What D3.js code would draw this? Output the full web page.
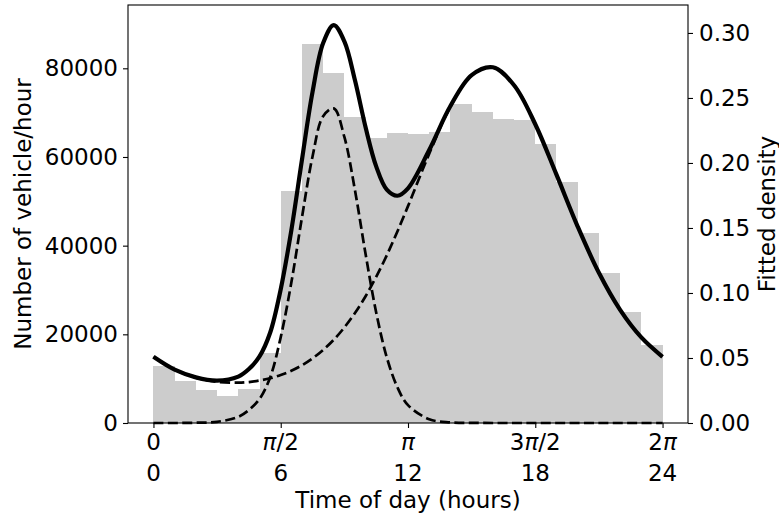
<!DOCTYPE html>
<html>
<head>
<meta charset="utf-8">
<script src="https://cdn.jsdelivr.net/npm/d3@7"></script>
<style>
  body { margin: 0; background: #fff; }
  text { font-family: "DejaVu Sans", sans-serif; fill: #000; }
</style>
</head>
<body>
<svg></svg>
<script>
(function () {
  'use strict';

  // hourly histogram (vehicles per hour, bins 0..23)
  var binHours = d3.range(24);
  var vehicleCounts = [12860, 9470, 7440, 6160, 7600, 15860, 52300, 85400,
                       78850, 69100, 64200, 65340, 65100, 65700, 71950, 70150,
                       68500, 68450, 62900, 54340, 42920, 33820, 24960, 17520];

  // fitted densities (hour -> density)
  var curveHours = [0, 1, 2, 3, 4, 4.5, 5, 5.5, 6, 6.5, 7, 7.5, 8, 8.5, 9, 9.5,
                    10, 10.5, 11, 11.5, 12, 13, 14, 15, 16, 17, 18, 19, 20, 21, 22, 23, 24];
  var morningPeak = [0, 0, 0.0002, 0.0009, 0.0047, 0.0100, 0.0185, 0.0350, 0.0660,
                     0.1080, 0.1580, 0.2050, 0.2360, 0.2420, 0.2200, 0.1790, 0.1300,
                     0.0850, 0.0505, 0.0275, 0.0137, 0.0029, 0.0005, 0.0001,
                     0, 0, 0, 0, 0, 0, 0, 0, 0];
  var afternoonPeak = [0.0509, 0.0410, 0.0349, 0.0317, 0.0310, 0.0315, 0.0327, 0.0344,
                       0.0369, 0.0402, 0.0444, 0.0497, 0.0562, 0.0640, 0.0735, 0.0846,
                       0.0975, 0.1124, 0.1290, 0.1473, 0.1668, 0.2071, 0.2433, 0.2675,
                       0.2736, 0.2598, 0.2298, 0.1910, 0.1511, 0.1155, 0.0870, 0.0658, 0.0509];
  var fittedTotal = [0.0509, 0.0410, 0.0351, 0.0326, 0.0357, 0.0415, 0.0512, 0.0694,
                     0.1029, 0.1482, 0.2024, 0.2547, 0.2922, 0.3060, 0.2935, 0.2636,
                     0.2275, 0.1974, 0.1795, 0.1748, 0.1805, 0.2100, 0.2438, 0.2676,
                     0.2736, 0.2598, 0.2298, 0.1910, 0.1511, 0.1155, 0.0870, 0.0658, 0.0509];

  var radTicks = [0, Math.PI / 2, Math.PI, 3 * Math.PI / 2, 2 * Math.PI];
  var radLabels = [['0'], ['π', '/2'], ['π'], ['3', 'π', '/2'], ['2', 'π']];
  var hourLabels = ['0', '6', '12', '18', '24'];
  var countTicks = [0, 20000, 40000, 60000, 80000];
  var densityTicks = [0, 0.05, 0.10, 0.15, 0.20, 0.25, 0.30];

  var W = 779, H = 516;
  var left = 128, right = 688, top = 5, bottom = 423;
  var FS = '23px';
  var hourToRad = 2 * Math.PI / 24;

  var svg = d3.select('svg')
      .attr('width', W)
      .attr('height', H);

  var x = d3.scaleLinear()
      .domain([-0.05 * 2 * Math.PI, 1.05 * 2 * Math.PI])
      .range([left, right]);
  var yCount = d3.scaleLinear().domain([0, 94280]).range([bottom, top]);
  var yDens = d3.scaleLinear().domain([0, 0.3215]).range([bottom, top]);

  // histogram bars
  svg.append('g').selectAll('rect')
      .data(binHours)
      .enter()
      .append('rect')
      .attr('x', function (h) { return x(h * hourToRad); })
      .attr('width', function (h) { return x((h + 1) * hourToRad) - x(h * hourToRad); })
      .attr('y', function (h, i) { return yCount(vehicleCounts[i]); })
      .attr('height', function (h, i) { return bottom - yCount(vehicleCounts[i]); })
      .attr('fill', '#cccccc')
      .attr('shape-rendering', 'crispEdges');

  // density curves
  function curvePath (vals) {
    return d3.line()
      .x(function (d, i) { return x(curveHours[i] * hourToRad); })
      .y(function (d) { return yDens(d); })
      .curve(d3.curveCatmullRom.alpha(0.5))(vals);
  }

  [morningPeak, afternoonPeak].forEach(function (vals) {
    svg.append('path')
        .attr('d', curvePath(vals))
        .attr('fill', 'none')
        .attr('stroke', '#000')
        .attr('stroke-width', 2.7)
        .attr('stroke-dasharray', '10,4.4');
  });

  svg.append('path')
      .attr('d', curvePath(fittedTotal))
      .attr('fill', 'none')
      .attr('stroke', '#000')
      .attr('stroke-width', 4.2)
      .attr('stroke-linejoin', 'round');

  // axes
  var xAxis = svg.append('g')
      .attr('transform', 'translate(0,' + bottom + ')')
      .call(d3.axisBottom(x).tickValues(radTicks).tickSize(5).tickSizeOuter(0)
            .tickFormat(function () { return ''; }));
  xAxis.select('.domain').remove();
  xAxis.selectAll('.tick line').attr('stroke', '#000').attr('stroke-width', 1.1);

  var xl = svg.append('g');
  radTicks.forEach(function (r, i) {
    var t = xl.append('text')
        .attr('x', x(r))
        .attr('y', 450)
        .attr('text-anchor', 'middle')
        .style('font-size', FS);
    radLabels[i].forEach(function (part) {
      t.append('tspan')
          .style('font-style', part === 'π' ? 'italic' : 'normal')
          .text(part);
    });
    xl.append('text')
        .attr('x', x(r))
        .attr('y', 481)
        .attr('text-anchor', 'middle')
        .style('font-size', FS)
        .text(hourLabels[i]);
  });

  var yAxisL = svg.append('g')
      .attr('transform', 'translate(' + left + ',0)')
      .call(d3.axisLeft(yCount).tickValues(countTicks).tickSize(5).tickPadding(5)
            .tickFormat(d3.format('d')));
  yAxisL.select('.domain').remove();

  var yAxisR = svg.append('g')
      .attr('transform', 'translate(' + right + ',0)')
      .call(d3.axisRight(yDens).tickValues(densityTicks).tickSize(5).tickPadding(6)
            .tickFormat(d3.format('.2f')));
  yAxisR.select('.domain').remove();

  [yAxisL, yAxisR].forEach(function (a) {
    a.selectAll('.tick line').attr('stroke', '#000').attr('stroke-width', 1.1);
    a.selectAll('.tick text')
        .style('font-size', FS)
        .style('font-family', '"DejaVu Sans", sans-serif')
        .attr('fill', '#000');
  });

  // frame
  svg.append('rect')
      .attr('x', left)
      .attr('y', top)
      .attr('width', right - left)
      .attr('height', bottom - top)
      .attr('fill', 'none')
      .attr('stroke', '#000')
      .attr('stroke-width', 1.1);

  // titles
  svg.append('text')
      .attr('x', (left + right) / 2)
      .attr('y', 508)
      .attr('text-anchor', 'middle')
      .style('font-size', FS)
      .text('Time of day (hours)');

  svg.append('text')
      .attr('transform', 'translate(31,' + (top + bottom) / 2 + ') rotate(-90)')
      .attr('text-anchor', 'middle')
      .style('font-size', FS)
      .text('Number of vehicle/hour');

  svg.append('text')
      .attr('transform', 'translate(775,' + (top + bottom) / 2 + ') rotate(-90)')
      .attr('text-anchor', 'middle')
      .style('font-size', FS)
      .text('Fitted density');
} ());
</script>
</body>
</html>
